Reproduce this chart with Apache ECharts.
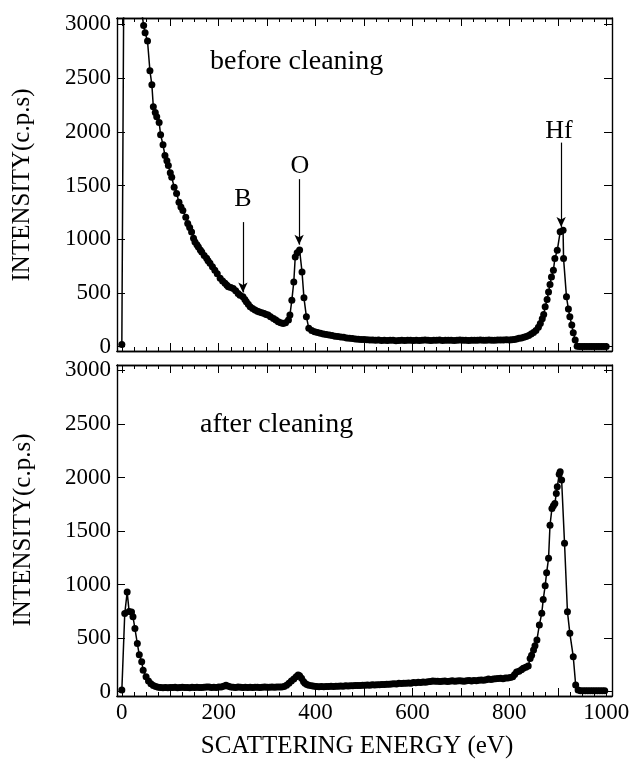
<!DOCTYPE html>
<html>
<head>
<meta charset="utf-8">
<script src="https://cdn.jsdelivr.net/npm/echarts@6/dist/echarts.min.js"></script>
<style>
html,body{margin:0;padding:0;background:#fff;}
#chart{width:636px;height:765px;}
</style>
</head>
<body>
<div id="chart"></div>
<script>
// ---- data ----
var energyBefore = [0,5,10,15,20,25,30,35,40,45,48,53,58,62,65,69,72,77,80,85,89,93,96,100,103,108,113,118,122,126,132,136,140,144,148,151,155,158,162,165,170,175,178,182,187,192,197,203,208,213,217,220,225,230,235,240,244,250,254,257,261,265,270,275,280,284,289,294,298,302,307,313,318,323,328,333,338,344,347,351,355,358,362,367,372,376,381,386,392,398,404,410,416,422,428,434,440,446,452,458,464,470,476,482,488,494,500,506,512,518,524,530,536,542,548,554,560,566,572,578,584,590,596,602,608,614,620,626,632,638,644,650,656,662,668,674,680,686,692,698,704,710,716,722,728,734,740,746,752,758,764,770,776,782,788,794,800,805,810,815,820,825,830,835,840,845,850,855,860,864,868,871,874,878,881,884,887,891,894,899,905,911,912,918,922,925,929,932,936,940,945,950,955,960,965,970,975,980,985,990,995,1000];
var intensityBefore = [20,4200,4000,3800,3650,3500,3380,3270,3150,2990,2923,2846,2568,2438,2233,2180,2141,2088,1974,1880,1779,1730,1686,1620,1577,1485,1426,1345,1300,1268,1206,1148,1110,1067,1010,974,950,928,900,882,850,823,800,777,745,712,680,637,612,591,572,557,550,542,520,495,480,464,440,418,395,371,355,341,330,322,316,308,300,294,280,263,248,232,222,217,222,248,294,433,603,835,875,900,696,455,280,171,150,140,132,125,118,114,109,104,98,94,90,87,82,78,76,72,70,68,66,64,62,63,60,62,58,60,57,59,60,56,58,60,57,59,61,58,60,57,59,62,60,58,61,59,62,58,60,59,61,58,60,62,59,61,58,60,59,61,62,60,61,62,60,61,62,63,62,64,63,65,68,72,78,82,88,95,105,118,132,150,180,217,260,300,371,440,510,580,650,712,820,897,1070,1085,820,464,350,278,201,130,62,5,3,3,3,3,3,3,3,3,3,3,3,3];

var energyAfter = [0,6,11,15,20,23,27,32,36,41,44,50,55,60,65,70,75,80,85,90,95,100,105,110,115,120,125,130,135,140,145,150,155,160,165,170,175,180,185,190,195,200,205,210,215,220,225,230,235,240,245,250,255,260,265,270,275,280,285,290,295,300,305,310,315,320,325,330,335,340,345,350,355,360,364,367,371,375,378,382,386,392,397,402,407,412,417,422,427,432,437,442,447,452,457,462,467,472,477,482,487,492,497,502,507,512,517,522,527,532,537,542,547,552,557,562,567,572,577,582,587,592,597,602,607,612,617,622,627,632,637,642,647,652,657,662,667,672,677,682,687,692,697,702,707,712,717,722,727,732,737,742,747,752,757,762,767,772,777,782,787,792,797,802,807,811,815,820,825,829,834,839,843,846,850,853,857,862,867,870,874,877,881,884,888,891,894,897,899,903,905,908,914,920,925,932,937,942,947,952,957,962,967,972,977,982,987,992,997];
var intensityAfter = [15,730,930,750,745,700,590,450,345,280,200,140,100,75,58,48,42,40,38,40,38,40,39,41,38,40,42,39,40,38,41,40,42,39,40,42,45,43,40,41,40,43,45,50,60,52,45,42,40,43,41,40,42,40,41,40,42,41,40,42,43,41,42,44,42,43,45,44,48,60,80,100,118,140,156,150,125,95,79,68,60,56,50,48,47,48,47,49,48,50,49,52,51,53,52,55,54,56,55,58,57,59,60,61,62,61,64,63,66,65,68,67,70,69,72,74,73,78,76,80,79,82,80,85,83,88,86,90,89,93,95,100,97,98,95,97,100,96,98,102,97,99,103,100,98,102,104,101,105,103,107,110,108,112,118,115,118,120,123,125,122,127,128,132,140,160,185,190,205,218,228,240,310,340,390,430,483,623,733,860,990,1110,1245,1555,1711,1735,1758,1850,1914,2030,2054,1976,1386,747,545,327,63,16,8,8,8,8,8,8,8,8,8,8,8];

var xLabelValues = [0,200,400,600,800,1000];
var xMajorTicks = [0,100,200,300,400,500,600,700,800,900,1000];
var xMinorTicks = [25,50,75,125,150,175,225,250,275,325,350,375,425,450,475,525,550,575,625,650,675,725,750,775,825,850,875,925,950,975];
var yTicks = [0,500,1000,1500,2000,2500,3000];

// arrows: [energy, tail intensity, head intensity]
var arrowB = [250, 1160, 505];
var arrowO = [366, 1560, 950];
var arrowHf = [907, 1900, 1115];

function zip(a,b){var r=[];for(var i=0;i<a.length;i++){r.push([a[i],b[i]]);}return r;}

var FONT = 'Liberation Serif';
var black = '#000';
function plain(v){return String(v);}

function xAxes(gridIndex, withLabels){
  var base = {type:'value', gridIndex:gridIndex, min:-10, max:1012, splitLine:{show:false},
    axisLine:{show:true, onZero:false, lineStyle:{color:black,width:1.4}}};
  return [
    Object.assign({}, base, {position:'bottom',
      axisTick:{show:true, inside:true, length:8, customValues:xMajorTicks, lineStyle:{color:black,width:1}},
      axisLabel:{show:withLabels, customValues:xLabelValues, formatter:plain, margin:5, color:black, fontFamily:FONT, fontSize:23}}),
    Object.assign({}, base, {position:'bottom',
      axisTick:{show:true, inside:true, length:4, customValues:xMinorTicks, lineStyle:{color:black,width:1}},
      axisLabel:{show:false}}),
    Object.assign({}, base, {position:'top',
      axisTick:{show:true, inside:true, length:8, customValues:xMajorTicks, lineStyle:{color:black,width:1}},
      axisLabel:{show:false}}),
    Object.assign({}, base, {position:'top',
      axisTick:{show:true, inside:true, length:4, customValues:xMinorTicks, lineStyle:{color:black,width:1}},
      axisLabel:{show:false}})
  ];
}
function yAxes(gridIndex, ymax){
  var base = {type:'value', gridIndex:gridIndex, min:-40, max:ymax, splitLine:{show:false},
    axisLine:{show:true, onZero:false, lineStyle:{color:black,width:1.4}}};
  return [
    Object.assign({}, base, {position:'left',
      axisTick:{show:true, inside:true, length:8, customValues:yTicks, lineStyle:{color:black,width:1}},
      axisLabel:{show:true, customValues:yTicks, formatter:plain, margin:6, color:black, fontFamily:FONT, fontSize:23}}),
    Object.assign({}, base, {position:'right',
      axisTick:{show:true, inside:true, length:8, customValues:yTicks, lineStyle:{color:black,width:1}},
      axisLabel:{show:false}})
  ];
}

function arrowLine(a){
  return [{coord:[a[0],a[1]]},{coord:[a[0],a[2]]}];
}

var lineSeriesBase = {type:'line', symbol:'circle', symbolSize:7, clip:true,
  itemStyle:{color:black}, lineStyle:{color:black,width:1.5}, animation:false};

var option = {
  animation:false,
  backgroundColor:'#fff',
  grid:[
    {left:117, top:18, width:495, height:333},
    {left:117, top:365, width:495, height:331}
  ],
  xAxis: xAxes(0,false).concat(xAxes(1,true)),
  yAxis: yAxes(0,3060).concat(yAxes(1,3050)),
  series:[
    Object.assign({}, lineSeriesBase, {xAxisIndex:0, yAxisIndex:0, data:zip(energyBefore,intensityBefore),
      markLine:{silent:true, symbol:['none','arrow'], symbolSize:[7,10], animation:false,
        label:{show:false}, lineStyle:{color:black,width:1.2,type:'solid'},
        emphasis:{disabled:true},
        data:[arrowLine(arrowB), arrowLine(arrowO), arrowLine(arrowHf)]}}),
    Object.assign({}, lineSeriesBase, {xAxisIndex:4, yAxisIndex:2, data:zip(energyAfter,intensityAfter)})
  ],
  graphic:[
    {type:'text', x:22, y:185, rotation:Math.PI/2, style:{text:'INTENSITY(c.p.s)', x:0, y:0, align:'center', verticalAlign:'middle', font:'25px "Liberation Serif"', fill:black}},
    {type:'text', x:23, y:530, rotation:Math.PI/2, style:{text:'INTENSITY(c.p.s)', x:0, y:0, align:'center', verticalAlign:'middle', font:'25px "Liberation Serif"', fill:black}},
    {type:'text', x:357, y:746, style:{text:'SCATTERING ENERGY (eV)', align:'center', verticalAlign:'middle', font:'25px "Liberation Serif"', fill:black}},
    {type:'text', x:210, y:62, style:{text:'before cleaning', align:'left', verticalAlign:'middle', font:'28px "Liberation Serif"', fill:black}},
    {type:'text', x:200, y:425, style:{text:'after cleaning', align:'left', verticalAlign:'middle', font:'28px "Liberation Serif"', fill:black}},
    {type:'text', x:243, y:199, style:{text:'B', align:'center', verticalAlign:'middle', font:'26px "Liberation Serif"', fill:black}},
    {type:'text', x:300, y:166, style:{text:'O', align:'center', verticalAlign:'middle', font:'26px "Liberation Serif"', fill:black}},
    {type:'text', x:559, y:131, style:{text:'Hf', align:'center', verticalAlign:'middle', font:'26px "Liberation Serif"', fill:black}}
  ]
};
var chart = echarts.init(document.getElementById('chart'), null, {renderer:'canvas'});
chart.setOption(option);
</script>
</body>
</html>
